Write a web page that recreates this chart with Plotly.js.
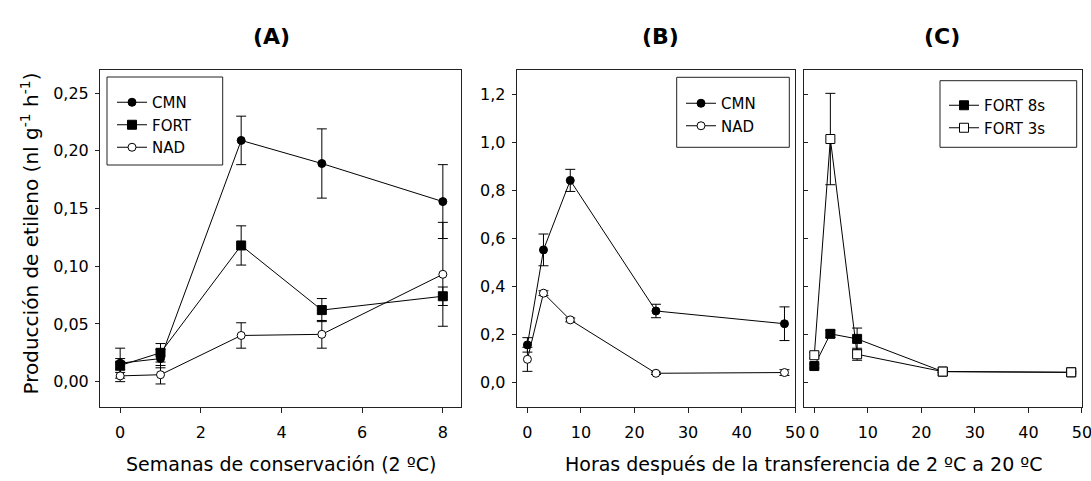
<!DOCTYPE html>
<html>
<head>
<meta charset="utf-8">
<script src="https://cdn.plot.ly/plotly-3.0.1.min.js"></script>
<style>html,body{margin:0;padding:0;background:#fff;}#chart{width:1091px;height:481px;}</style>
</head>
<body>
<div id="chart"></div>
<script>
// ---- Data ----
// Panel A: weeks of storage at 2 ºC
const weeksA = [0, 1, 3, 5, 8];
const cmnA = [0.016, 0.020, 0.209, 0.189, 0.156];
const cmnAerr = [0.013, 0.008, 0.021, 0.030, 0.032];
const fortA = [0.014, 0.025, 0.118, 0.062, 0.074];
const fortAerr = [0.006, 0.008, 0.017, 0.010, 0.008];
const nadA = [0.005, 0.006, 0.040, 0.041, 0.093];
const nadAerr = [0.005, 0.008, 0.011, 0.012, 0.045];

// Panel B: hours after transfer from 2 ºC to 20 ºC
const hoursB = [0, 3, 8, 24, 48];
const cmnB = [0.157, 0.552, 0.841, 0.298, 0.245];
const cmnBerr = [0.030, 0.066, 0.046, 0.028, 0.070];
const nadB = [0.097, 0.372, 0.261, 0.039, 0.042];
const nadBerr = [0.050, 0.010, 0.008, 0.005, 0.012];

// Panel C
const hoursC = [0, 3, 8, 24, 48];
const fort8C = [0.069, 0.203, 0.182, 0.046, 0.043];
const fort8Cerr = [0.008, 0.015, 0.045, 0.004, 0.004];
const fort3C = [0.114, 1.013, 0.118, 0.046, 0.043];
const fort3Cerr = [0.012, 0.190, 0.025, 0.004, 0.004];

const ticksA = [0, 0.05, 0.10, 0.15, 0.20, 0.25];
const ticksB = [0, 0.2, 0.4, 0.6, 0.8, 1.0, 1.2];
const ticksWeeks = [0, 2, 4, 6, 8];
const ticksHours = [0, 10, 20, 30, 40, 50];

// ---- Styling ----
const W = 1091, H = 481;
const FONT = 'DejaVu Sans';
const px = v => v / W;
const py = v => 1 - v / H;

function err(arr) {
  return {type: 'data', array: arr, visible: true, color: '#000', thickness: 1, width: 5};
}
function tr(x, y, e, name, symbol, fill, xa, ya, leg) {
  return {
    x: x, y: y, name: name, type: 'scatter', mode: 'lines+markers',
    xaxis: xa, yaxis: ya, legend: leg,
    line: {color: '#000', width: 1},
    marker: {symbol: symbol, size: symbol.indexOf('square') === 0 ? 9 : 8, color: fill,
             line: {color: '#000', width: 1}},
    error_y: err(e)
  };
}

const data = [
  tr(weeksA, cmnA, cmnAerr, 'CMN', 'circle', '#000', 'x', 'y', 'legend'),
  tr(weeksA, fortA, fortAerr, 'FORT', 'square', '#000', 'x', 'y', 'legend'),
  tr(weeksA, nadA, nadAerr, 'NAD', 'circle', '#fff', 'x', 'y', 'legend'),
  tr(hoursB, cmnB, cmnBerr, 'CMN', 'circle', '#000', 'x2', 'y2', 'legend2'),
  tr(hoursB, nadB, nadBerr, 'NAD', 'circle', '#fff', 'x2', 'y2', 'legend2'),
  tr(hoursC, fort8C, fort8Cerr, 'FORT 8s', 'square', '#000', 'x3', 'y3', 'legend3'),
  tr(hoursC, fort3C, fort3Cerr, 'FORT 3s', 'square', '#fff', 'x3', 'y3', 'legend3')
];

const yDom = [py(406.7), py(70)];
const axBase = {
  showline: true, mirror: true, linecolor: '#222', linewidth: 1,
  showgrid: false, zeroline: false, ticks: 'outside', tickcolor: '#222',
  tickfont: {family: FONT, size: 16, color: '#000'}
};

const legBase = {
  bgcolor: 'rgba(0,0,0,0)', borderwidth: 0, xanchor: 'left', yanchor: 'top',
  font: {family: FONT, size: 15, color: '#000'}, tracegroupgap: 0
};

function box(x0, x1, y0, y1) {
  return {type: 'rect', xref: 'paper', yref: 'paper', x0: px(x0), x1: px(x1), y0: py(y1), y1: py(y0),
          line: {color: '#222', width: 1}, fillcolor: 'rgba(0,0,0,0)', layer: 'above'};
}

const layout = {
  width: W, height: H,
  margin: {l: 0, r: 0, t: 0, b: 0},
  paper_bgcolor: '#fff', plot_bgcolor: '#fff',
  separators: ',.',
  font: {family: FONT, color: '#000'},
  xaxis: Object.assign({}, axBase, {domain: [px(100), px(461)], range: [-0.5, 8.45], anchor: 'y',
    tickvals: ticksWeeks, ticklen: 5, ticklabelstandoff: 6}),
  yaxis: Object.assign({}, axBase, {domain: yDom, range: [-0.0217, 0.27], anchor: 'x',
    tickvals: ticksA, tickformat: '.2f', ticklen: 4, ticklabelstandoff: 3}),
  xaxis2: Object.assign({}, axBase, {domain: [px(516.7), px(795.3)], range: [-2, 50.02], anchor: 'y2',
    tickvals: ticksHours, ticklen: 5, ticklabelstandoff: 6, ticklabeloverflow: 'allow'}),
  yaxis2: Object.assign({}, axBase, {domain: yDom, range: [-0.1, 1.3], anchor: 'x2',
    tickvals: ticksB, tickformat: '.1f', ticklen: 4, ticklabelstandoff: 3}),
  xaxis3: Object.assign({}, axBase, {domain: [px(804.3), px(1082)], range: [-1.87, 50.02], anchor: 'y3',
    tickvals: ticksHours, ticklen: 5, ticklabelstandoff: 6, ticklabeloverflow: 'allow'}),
  yaxis3: Object.assign({}, axBase, {domain: yDom, range: [-0.1, 1.3], anchor: 'x3',
    tickvals: ticksB, showticklabels: false, ticks: 'inside', ticklen: 4}),
  showlegend: true,
  legend: Object.assign({}, legBase, {x: px(112), y: py(86)}),
  legend2: Object.assign({}, legBase, {x: px(681), y: py(87)}),
  legend3: Object.assign({}, legBase, {x: px(944), y: py(89)}),
  shapes: [
    box(107, 222.7, 77, 165),
    box(676.7, 789.3, 77.3, 147.3),
    box(940, 1076.7, 80.7, 147.3)
  ],
  annotations: [
    {text: '<b>(A)</b>', x: px(271), y: py(36.5), xref: 'paper', yref: 'paper', showarrow: false,
     xanchor: 'center', yanchor: 'middle', font: {family: FONT, size: 22, color: '#000'}},
    {text: '<b>(B)</b>', x: px(660), y: py(36.5), xref: 'paper', yref: 'paper', showarrow: false,
     xanchor: 'center', yanchor: 'middle', font: {family: FONT, size: 22, color: '#000'}},
    {text: '<b>(C)</b>', x: px(941.7), y: py(36.5), xref: 'paper', yref: 'paper', showarrow: false,
     xanchor: 'center', yanchor: 'middle', font: {family: FONT, size: 22, color: '#000'}},
    {text: 'Semanas de conservación (2 ºC)', x: px(281), y: py(464), xref: 'paper', yref: 'paper',
     showarrow: false, xanchor: 'center', yanchor: 'middle', font: {family: FONT, size: 19, color: '#000'}},
    {text: 'Horas después de la transferencia de 2 ºC a 20 ºC', x: px(804), y: py(464), xref: 'paper', yref: 'paper',
     showarrow: false, xanchor: 'center', yanchor: 'middle', font: {family: FONT, size: 19, color: '#000'}},
    {text: 'Producción de etileno (nl g<sup>-1</sup> h<sup>-1</sup>)', x: px(29.5), y: py(234), xref: 'paper', yref: 'paper',
     showarrow: false, textangle: -90, xanchor: 'center', yanchor: 'middle', font: {family: FONT, size: 20, color: '#000'}}
  ]
};

Plotly.newPlot('chart', data, layout, {staticPlot: true, displayModeBar: false});
</script>
</body>
</html>
